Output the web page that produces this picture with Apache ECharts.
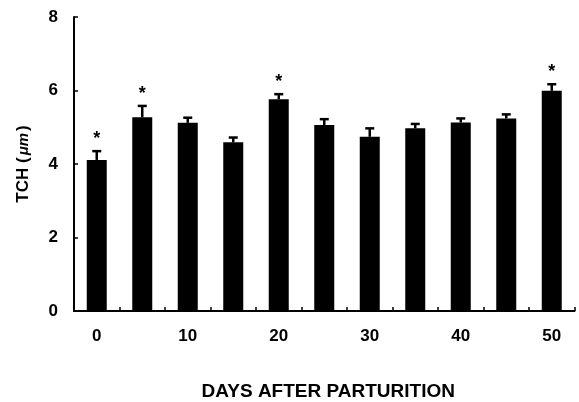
<!DOCTYPE html>
<html><head><meta charset="utf-8">
<script src="https://cdn.jsdelivr.net/npm/echarts@6/dist/echarts.min.js"></script>
<style>html,body{margin:0;padding:0;background:#fff}#c{width:579px;height:402px}</style>
</head><body><div id="c"></div>
<script>
var categories = ['0','5','10','15','20','25','30','35','40','45','50'];
var means = [4.11, 5.27, 5.12, 4.59, 5.76, 5.06, 4.74, 4.97, 5.13, 5.24, 5.99];
var errUpper = [4.35, 5.58, 5.26, 4.72, 5.90, 5.22, 4.97, 5.09, 5.24, 5.35, 6.17];
var significant = [1, 1, 0, 0, 1, 0, 0, 0, 0, 0, 1];
var yTicks = [0, 2, 4, 6, 8];

var font = '"Liberation Sans", Arial, sans-serif';
var errData = categories.map(function(c, i){ return [i, means[i], errUpper[i], significant[i]]; });

var chart = echarts.init(document.getElementById('c'));
chart.setOption({
  animation: false,
  grid: {left: 74, right: 4.5, top: 17, bottom: 91, containLabel: false, outerBoundsMode: 'none'},
  xAxis: {
    type: 'category', data: categories, boundaryGap: true,
    name: 'DAYS AFTER PARTURITION', nameLocation: 'middle', nameGap: 71,
    nameTextStyle: {fontFamily: font, fontWeight: 'bold', fontSize: 19, color: '#000', padding: [0,0,0,8]},
    axisLine: {lineStyle: {color: '#000', width: 2}},
    axisTick: {show: true, inside: true, length: 4, interval: 0, lineStyle: {color: '#000', width: 1.5}},
    axisLabel: {interval: 1, margin: 17, fontFamily: font, fontWeight: 'bold', fontSize: 17, color: '#000'},
    splitLine: {show: false}
  },
  yAxis: {
    type: 'value', min: yTicks[0], max: yTicks[yTicks.length-1], interval: 2,
    name: '{a|TCH (}{b|\u03bcm}{a|)}', nameLocation: 'middle', nameGap: 42, nameRotate: 90,
    nameTextStyle: {color: '#000', rich: {
      a: {fontFamily: font, fontWeight: 'bold', fontSize: 17, color: '#000'},
      b: {fontFamily: font, fontWeight: 'bold', fontStyle: 'italic', fontSize: 15, color: '#000', padding: [0, 2, 0, 2]}
    }},
    axisLine: {show: true, lineStyle: {color: '#000', width: 2}},
    axisTick: {show: true, inside: true, length: 4, lineStyle: {color: '#000', width: 1.5}},
    axisLabel: {margin: 16, fontFamily: font, fontWeight: 'bold', fontSize: 17, color: '#000'},
    splitLine: {show: false}
  },
  series: [
    {type: 'bar', data: means, barWidth: 20, itemStyle: {color: '#000'}, z: 2},
    {type: 'custom', data: errData, z: 3,
     renderItem: function(params, api){
       var i = api.value(0);
       var top = api.coord([i, api.value(2)]);
       var base = api.coord([i, api.value(1)]);
       var hw = 4.5;
       var children = [
         {type: 'line', shape: {x1: top[0], y1: base[1], x2: top[0], y2: top[1]}, style: {stroke: '#000', lineWidth: 2.5}},
         {type: 'line', shape: {x1: top[0]-hw, y1: top[1], x2: top[0]+hw, y2: top[1]}, style: {stroke: '#000', lineWidth: 2.5}}
       ];
       if (api.value(3)) {
         children.push({type: 'text', style: {text: '*', x: top[0], y: top[1]-12, align: 'center', verticalAlign: 'middle', font: 'bold 18px ' + font, fill: '#000'}});
       }
       return {type: 'group', children: children};
     }
    }
  ]
});
</script></body></html>
